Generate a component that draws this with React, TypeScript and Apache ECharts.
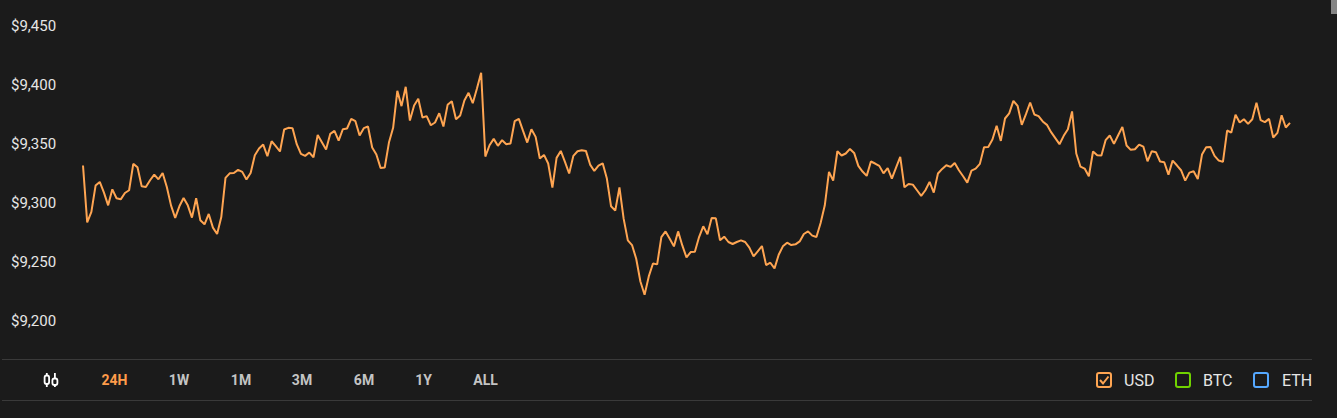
import React, { useEffect, useRef } from "react";
import * as echarts from "echarts";

const usdPart1 = [
  9331.6, 9283.4, 9292.2, 9314.6, 9317.7, 9308.6, 9297.8, 9311.4, 9303.8, 9302.9, 9308.3, 9310.6,
  9333, 9330.1, 9314, 9313.4, 9319.1, 9323.9, 9319.9, 9325.3, 9313.4, 9297.8, 9287.1, 9297, 9304.1,
  9297.8, 9287.4, 9303.8, 9285.1, 9281.7, 9290.5, 9278.9, 9273.5, 9287.9, 9321.1, 9325, 9325.3,
  9327.9, 9326.2, 9319.7, 9325.3, 9340.3, 9346, 9349.4, 9339.5, 9352.2, 9348, 9343.5, 9362.2, 9363.6,
  9363.3, 9349.7, 9341.5, 9339.8, 9342.6, 9338.6, 9357.6, 9351.4, 9345.2, 9358.5, 9361, 9352.8,
  9362.4, 9363, 9371.2, 9369.2, 9357.1, 9363.3, 9364.7,
];
const usdPart2 = [
  9346.9, 9340.9, 9329.6, 9329.9, 9351.1, 9363.6, 9395, 9382, 9398.4, 9369.8, 9382.6, 9388.2, 9372.4,
  9373.5, 9365.8, 9368.1, 9376, 9364.7, 9383.1, 9386.2, 9370.9, 9374.1, 9386.8, 9393.3, 9384.5, 9397,
  9410.3, 9339.2, 9348.8, 9354.2, 9348.3, 9353.1, 9349.7, 9350.3, 9369.2, 9371.2, 9361, 9351.1,
  9362.4, 9355.9, 9337.5, 9340.6, 9333.3, 9312.9, 9338.1, 9344, 9334.7, 9324.8, 9339.8, 9343.7,
  9344.6, 9344, 9332.4, 9327, 9331.6, 9333.5, 9320.5, 9297, 9293.3, 9313.1, 9286.5, 9268.1, 9264.1,
  9252.5, 9233.2, 9221.9, 9237.5, 9248.5, 9247.7, 9270.9, 9275.7, 9269.5,
];
const usdPart3 = [
  9263, 9275.7, 9263.8, 9253.6, 9258.2, 9258.5, 9270.9, 9280, 9273.2, 9287.1, 9286.8, 9268.1, 9271.2,
  9266.7, 9265, 9266.7, 9268.1, 9266.7, 9261.9, 9254.5, 9258.7, 9263.3, 9247.1, 9249.1, 9244.3,
  9255.9, 9263, 9266.1, 9264.1, 9264.7, 9267.2, 9273.5, 9275.7, 9272.1, 9270.9, 9282.8, 9297.8,
  9326.2, 9318.8, 9343.7, 9340.1, 9341.8, 9345.7, 9342.3, 9331.3, 9326.5, 9322.8, 9335, 9333.3,
  9331.3, 9325, 9329.3, 9320.5, 9329.9, 9338.9, 9313.1, 9316, 9315.4, 9310.6, 9305.8, 9310.6, 9317.7,
  9308.6, 9324.8, 9328.7, 9331.8, 9330.4, 9333.8, 9327.6, 9322.5, 9317.1, 9327.3, 9329, 9333,
];
const usdPart4 = [
  9347.1, 9347.4, 9353.7, 9365.3, 9352.5, 9371.5, 9375.8, 9386.5, 9382.3, 9366.1, 9375.2, 9385.1,
  9374.9, 9373.5, 9369, 9366.1, 9359.9, 9354.8, 9349.7, 9356.8, 9362.4, 9377.5, 9341.8, 9330.7, 9329,
  9322.5, 9343.5, 9340.3, 9340.1, 9353.1, 9357.1, 9350, 9357.3, 9364.4, 9348.6, 9344.9, 9345.4,
  9349.4, 9347.7, 9335.2, 9343.7, 9342.9, 9335, 9334.4, 9323.9, 9335.8, 9331.8, 9327.6, 9318.8,
  9325.6, 9326.7, 9320.2, 9340.9, 9347.1, 9347.4, 9339.8, 9335.8, 9334.7, 9361.3, 9359.6, 9374.6,
  9368.1, 9370.9, 9367, 9370.9, 9384.8, 9370.1, 9368.4, 9371.2, 9355.4, 9359.3, 9374.3, 9363.9, 9367.8,
];
const usdValues = [...usdPart1, ...usdPart2, ...usdPart3, ...usdPart4];
const sampleIndex = usdValues.map((_, i) => String(i));
const rangeLabels = ["24H", "1W", "1M", "3M", "6M", "1Y", "ALL"];
const legendLabels = ["USD", "BTC", "ETH"];

const BG = "#1b1b1b";
const ORANGE = "#ffa552";
const RANGE_X = [114.5, 179, 241, 302, 364, 423.5, 485.5];
const LEGEND_BOX_X = [1096, 1175, 1253];
const LEGEND_TEXT_X = [1124, 1203, 1282];
const LEGEND_COLORS = [ORANGE, "#70d300", "#55a8ff"];
const FONT = "Roboto, sans-serif";

export default function App() {
  const ref = useRef<HTMLDivElement>(null);
  useEffect(() => {
    document.body.style.margin = "0";
    document.body.style.background = BG;
    const chart = echarts.init(ref.current!, null, { renderer: "svg" });
    const rule = (y: number) => ({
      type: "line",
      silent: true,
      shape: { x1: 2, y1: y, x2: 1312, y2: y },
      style: { stroke: "#3a3a3a", lineWidth: 1 },
    });
    const iconStroke = { stroke: "#ffffff", lineWidth: 1.8, fill: "none" };
    const graphic: any[] = [
      rule(359.5),
      rule(400.5),
      { type: "rect", shape: { x: 1331, y: 0, width: 6, height: 14 }, style: { fill: "#858585" } },
      // candlestick icon
      { type: "rect", shape: { x: 44.6, y: 375.5, width: 4.5, height: 8.5, r: 2 }, style: iconStroke },
      { type: "line", shape: { x1: 46.8, y1: 373, x2: 46.8, y2: 375.5 }, style: iconStroke },
      { type: "line", shape: { x1: 46.8, y1: 384, x2: 46.8, y2: 387 }, style: iconStroke },
      { type: "rect", shape: { x: 52.4, y: 378.5, width: 5, height: 6.5, r: 2 }, style: iconStroke },
      { type: "line", shape: { x1: 54.9, y1: 373, x2: 54.9, y2: 378.5 }, style: iconStroke },
      { type: "line", shape: { x1: 54.9, y1: 385, x2: 54.9, y2: 387 }, style: iconStroke },
      ...rangeLabels.map((text, i) => ({
        type: "text",
        x: RANGE_X[i],
        y: 380,
        style: {
          text,
          align: "center",
          verticalAlign: "middle",
          fill: i === 0 ? "#ff9c4a" : "#c4c4c4",
          font: `700 14px ${FONT}`,
        },
      })),
      ...legendLabels.flatMap((text, i) => [
        {
          type: "rect",
          shape: { x: LEGEND_BOX_X[i] + 1, y: 373, width: 14, height: 14, r: 2 },
          style: { fill: "none", stroke: LEGEND_COLORS[i], lineWidth: 2 },
        },
        {
          type: "text",
          x: LEGEND_TEXT_X[i],
          y: 380,
          style: { text, align: "left", verticalAlign: "middle", fill: "#e6e6e6", font: `400 16px ${FONT}` },
        },
      ]),
      {
        type: "polyline",
        shape: { points: [[1100, 380], [1103, 383.5], [1108.5, 376.5]] },
        style: { stroke: ORANGE, lineWidth: 2, fill: "none" },
      },
    ];
    chart.setOption({
      animation: false,
      backgroundColor: BG,
      grid: { left: 83, top: 26, width: 1207, height: 294.6 },
      xAxis: { type: "category", data: sampleIndex, boundaryGap: false, show: false },
      yAxis: {
        type: "value",
        min: 9200,
        max: 9450,
        interval: 50,
        axisLine: { show: false },
        axisTick: { show: false },
        splitLine: { show: false },
        axisLabel: {
          align: "left",
          margin: 72,
          color: "#e6e6e6",
          fontFamily: FONT,
          fontSize: 15,
          formatter: (v: number) => "$" + v.toLocaleString("en-US"),
        },
      },
      series: [
        {
          type: "line",
          name: "USD",
          data: usdValues,
          showSymbol: false,
          smooth: false,
          lineStyle: { color: ORANGE, width: 2 },
        },
      ],
      graphic,
    });
    return () => chart.dispose();
  }, []);
  return <div ref={ref} style={{ width: 1337, height: 418 }} />;
}
